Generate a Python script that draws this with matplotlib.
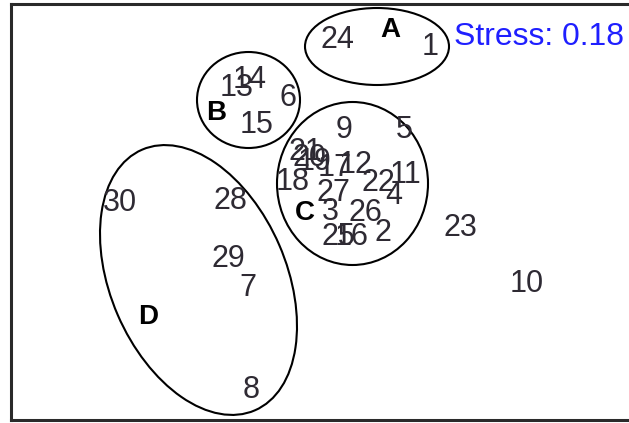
import matplotlib
matplotlib.use("Agg")
import matplotlib.pyplot as plt
from matplotlib.patches import Ellipse

plt.rcParams["font.family"] = ["Liberation Sans", "DejaVu Sans"]

# NMDS site scores
site_labels = [str(i) for i in range(1, 31)]
nmds1 = [0.440, 0.252, 0.040, 0.296, 0.336, -0.128, -0.288, -0.276, 0.096, 0.828,
         0.340, 0.144, -0.332, -0.280, -0.252, 0.128, 0.060, -0.110, -0.020, -0.040,
         -0.060, 0.232, 0.560, 0.068, 0.072, 0.180, 0.052, -0.360, -0.368, -0.800]
nmds2 = [0.692, -0.052, 0.032, 0.096, 0.360, 0.488, -0.272, -0.680, 0.360, -0.256,
         0.180, 0.220, 0.528, 0.560, 0.380, -0.068, 0.208, 0.152, 0.232, 0.248,
         0.272, 0.148, -0.032, 0.720, -0.068, 0.028, 0.108, 0.076, -0.156, 0.068]
stress = 0.18

# group ellipses: centre, width, height, angle
group_names = ["A", "B", "C", "D"]
ell_cx = [0.228, -0.286, 0.130, -0.486]
ell_cy = [0.694, 0.480, 0.146, -0.240]
ell_w = [0.576, 0.412, 0.604, 1.136]
ell_h = [0.308, 0.384, 0.652, 0.704]
ell_angle = [0, 0, 0, -66.6]
name_x = [0.280, -0.416, -0.060, -0.688]
name_y = [0.760, 0.428, 0.028, -0.388]

fig = plt.figure(figsize=(6.29, 4.23), dpi=100)
ax = fig.add_axes([11 / 629, 3 / 423, 618 / 629, 416 / 423])
ax.set_xlim(-1.236, 1.236)
ax.set_ylim(-0.80, 0.864)

for lab, x, y in zip(site_labels, nmds1, nmds2):
    ax.text(x, y, lab, fontsize=22, color="#2e2a33", ha="center", va="center")

for cx, cy, w, h, a in zip(ell_cx, ell_cy, ell_w, ell_h, ell_angle):
    ax.add_patch(Ellipse((cx, cy), w, h, angle=a, fill=False,
                         edgecolor="black", linewidth=1.5))

for name, x, y in zip(group_names, name_x, name_y):
    ax.text(x, y, name, fontsize=20, fontweight="bold", color="black",
            ha="center", va="center")

ax.text(0.536, 0.732, f"Stress: {stress:.2f}", fontsize=23, color="#1f1fff",
        ha="left", va="center")

ax.set_xticks([])
ax.set_yticks([])
ax.spines["right"].set_visible(False)
for s in ["left", "top", "bottom"]:
    ax.spines[s].set_linewidth(2.2)
    ax.spines[s].set_color("#2a2a2a")

fig.savefig("out.png", dpi=100)
